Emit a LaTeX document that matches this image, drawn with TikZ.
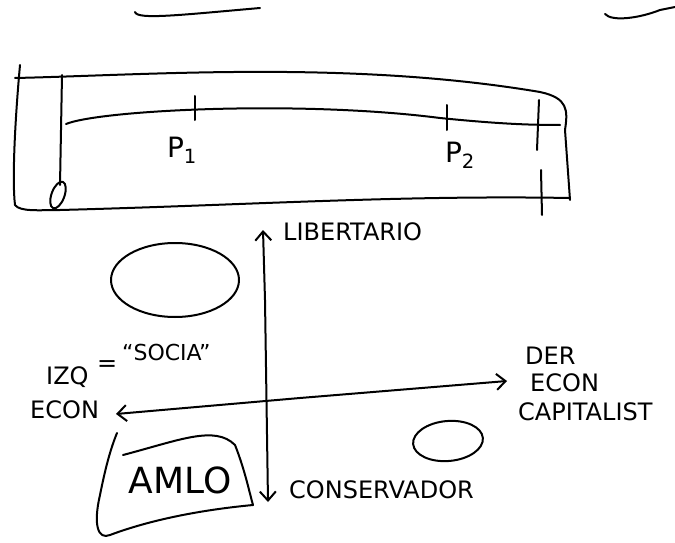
\documentclass[tikz,border=0pt]{standalone}
\usepackage{fontspec}
\setmainfont{DejaVu Sans}
\usetikzlibrary{arrows.meta,shapes.geometric}
\begin{document}
\begin{tikzpicture}[x=1pt,y=-1pt,
  pen/.style={line width=2pt,line cap=round,line join=round},
  lbl/.style={font=\fontsize{24}{26}\selectfont,inner sep=0pt},
  tipopen/.style={-{Straight Barb[length=9pt,width=16pt]}}]
\useasboundingbox (0,0) rectangle (675,543);
% partial strokes at top
\draw[pen] (135,12) .. controls (137,20) and (180,15) .. (260,8);
\draw[pen] (605,14) .. controls (612,22) and (640,18) .. (660,10) -- (675,7);
% long strip
\draw[pen] (15,78) .. controls (150,75) and (350,60) .. (540,92) .. controls (568,98) and (568,110) .. (565,130) -- (570,200);
\draw[pen] (20,65) .. controls (15,120) and (12,180) .. (15,205) .. controls (20,212) and (40,210) .. (60,210) .. controls (250,205) and (400,195) .. (570,198);
% origin line
\draw[pen] (62,75) -- (60,185);
\node[draw,pen,ellipse,minimum width=13pt,minimum height=28pt,inner sep=0pt,rotate=-20] (zero) at (58,195) {};
% axis of strip
\coordinate (a0) at (66,124);
\coordinate (a1) at (560,125);
\draw[pen] (a0) .. controls (100,110) and (300,100) .. (440,118) .. controls (500,124) and (530,125) .. (a1);
\draw[pen] (195,96) -- (195,120);
\draw[pen] (447,105) -- (447,130);
\draw[pen] (539,100) -- (537,150) (541,170) -- (542,215);
\node[lbl,font=\fontsize{28}{30}\selectfont] (p1) at (182,150) {P\textsubscript{1}};
\node[lbl,font=\fontsize{28}{30}\selectfont] (p2) at (460,155) {P\textsubscript{2}};
% vertical axis
\coordinate (vmid) at (265,300);
\coordinate (vtop) at (263,230);
\coordinate (vbot) at (268,502);
\draw[pen,tipopen] (vmid) -- (vtop);
\draw[pen,tipopen] (vmid) -- (vbot);
\node[lbl,anchor=west] (lib) at (283,232) {LIBERTARIO};
\node[lbl,anchor=west] (cons) at (289,490) {CONSERVADOR};
% horizontal axis
\coordinate (hmid) at (300,398);
\coordinate (hl) at (116,414);
\coordinate (hr) at (507,381);
\draw[pen,tipopen] (hmid) -- (hl);
\draw[pen,tipopen] (hmid) -- (hr);
% blobs
\draw[pen] (175,280) ellipse [x radius=64pt,y radius=37pt];
\draw[pen,rotate around={5:(448,441)}] (448,441) ellipse [x radius=35pt,y radius=20pt];
% labels left
\node[lbl,anchor=west] (izq) at (46,377) {IZQ};
\node[lbl,anchor=west] (eq) at (97,366) {=};
\node[lbl,font=\fontsize{22}{24}\selectfont,anchor=west] (socia) at (122,352) {“SOCIA”};
\node[lbl,anchor=west] (econl) at (30,410) {ECON};
% labels right
\node[lbl,anchor=west] (der) at (525,356) {DER};
\node[lbl,anchor=west] (econr) at (530,383) {ECON};
\node[lbl,anchor=west] (cap) at (518,412) {CAPITALIST};
% AMLO box
\draw[pen] (123,455) .. controls (180,440) and (215,425) .. (235,445) .. controls (245,470) and (250,495) .. (253,505) .. controls (200,510) and (150,520) .. (110,535) .. controls (98,540) and (93,525) .. (100,495) .. controls (105,470) and (110,450) .. (117,433);
\node[lbl,font=\fontsize{36}{38}\selectfont] (amlo) at (180,480) {AMLO};
\end{tikzpicture}
\end{document}
